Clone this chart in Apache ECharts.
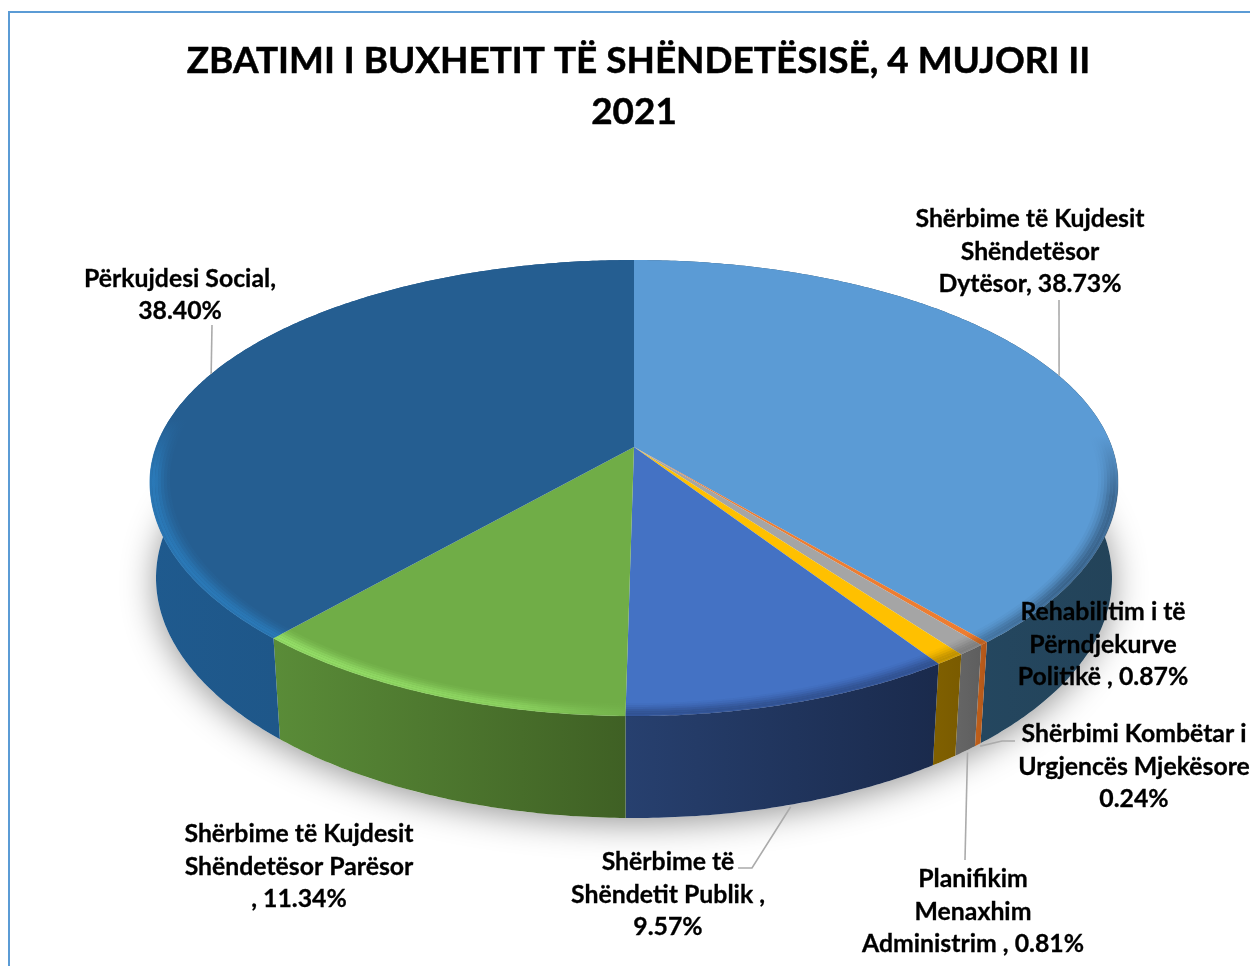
<!DOCTYPE html>
<html><head><meta charset="utf-8">
<style>html,body{margin:0;padding:0;background:#fff;overflow:hidden}#c{width:1250px;height:966px}</style>
<script src="https://cdn.jsdelivr.net/npm/echarts@6/dist/echarts.min.js"></script>
</head><body><div id="c"></div>
<script>
// ---- data ----
const titleText = ' ZBATIMI I BUXHETIT TË SHËNDETËSISË, 4 MUJORI II\n2021';
const categories = [
  'Shërbime të Kujdesit\nShëndetësor\nDytësor',
  'Shërbimi Kombëtar i\nUrgjencës Mjekësore',
  'Planifikim\nMenaxhim\nAdministrim',
  'Rehabilitim i të\nPërndjekurve\nPolitikë',
  'Shërbime të\nShëndetit Publik',
  'Shërbime të Kujdesit\nShëndetësor Parësor',
  'Përkujdesi Social'
];
const values = [38.73, 0.24, 0.81, 0.87, 9.57, 11.34, 38.40];
const separators = [', ', '\n', ' , ', ' , ', ' ,\n', '\n, ', ',\n'];
// ---- style / layout ----
const topColors  = ['#5B9BD5','#ED7D31','#A5A5A5','#FFC000','#4472C4','#70AD47','#255E91'];
const sideLeft   = ['#27506F','#C0601A','#666666','#806000','#27406F','#5A8C38','#1F5A8E'];
const sideRight  = ['#234359','#B0561A','#5E5E5E','#7A5B00','#1A2A4C','#3F6024','#1C4E7B'];
const labelPos   = [[1030,252],[1134,767],[973,912],[1103,645],[668,895],[299,867],[180,295]];
const leaderEnds = [[[1059,300]],[[1002,741],[1015,741]],[[965,860]],null,[[752,868],[738,868]],null,[[212,325]]];
const leaderOnBase = [false,true,true,false,true,false,false];
const topE  = {cx:634, cy:482, rx:484, ryUp:222, ryDown:234, p:0.158};
const baseE = {cx:634, cy:578, rx:478, ryUp:240, ryDown:240, p:0.15};
const FONT = 'Lato, Carlito, "Open Sans", sans-serif';

// ---- geometry from values ----
const total = values.reduce((a,b)=>a+b,0);
let run = 0;
const spans = values.map(v=>{const s=run/total*2*Math.PI; run+=v; return [s, run/total*2*Math.PI];});
function pt(t,R,E){
  const u=R*Math.sin(t), v=-R*Math.cos(t), d=1-E.p*v, y=(v-E.p)/d;
  return [E.cx+E.rx*u*Math.sqrt(1-E.p*E.p)/d, E.cy+(y<0?E.ryUp:E.ryDown)*y];
}
function arc(a,b,R,E){
  const n=Math.max(4,Math.ceil((b-a)/0.01)), out=[];
  for(let i=0;i<=n;i++) out.push(pt(a+(b-a)*i/n,R,E));
  return out;
}
const hgrad=(a,b)=>({type:'linear',x:0,y:0,x2:1,y2:0,colorStops:[{offset:0,color:a},{offset:1,color:b}]});
const vstops=(rgb,st)=>({type:'linear',x:0,y:0,x2:0,y2:1,colorStops:st.map(s=>({offset:s[0],color:'rgba('+rgb+','+s[1]+')'}))});
const bevelFill=[
 vstops('35,62,90',[[0,0],[0.46,0],[0.62,0.55],[0.85,0.6],[1,0.4]]),
 'rgba(140,70,20,0.5)','rgba(90,90,90,0.5)','rgba(130,100,0,0.5)',
 'rgba(30,50,95,0.5)',
 {type:'linear',x:0,y:0,x2:1,y2:0,colorStops:[{offset:0,color:'rgba(150,225,105,0.95)'},{offset:0.7,color:'rgba(150,225,105,0.7)'},{offset:1,color:'rgba(130,200,90,0.25)'}]},
 vstops('42,122,185',[[0,0],[0.42,0],[0.56,0.95],[1,0.95]])
];
// strips across the rim: [inner radius, outer radius, opacity]
const rimStrips=[[0.96,0.966,0.1],[0.966,0.972,0.25],[0.972,0.978,0.45],[0.978,0.984,0.7],[0.984,0.99,0.9],[0.99,0.996,1],[0.996,1.001,0.85]];
function poly(points,fill,extra){return {type:'polygon',shape:{points},style:Object.assign({fill},extra||{})};}
const idx=values.map((v,i)=>i);
const custom=(z,render)=>({type:'custom',coordinateSystem:'none',silent:true,z,data:idx,renderItem:render,animation:false,clip:false});

const series=[
  custom(1,(p)=>p.dataIndex!==0?null:poly(arc(0,2*Math.PI,1,baseE),'#fff',{shadowBlur:34,shadowColor:'rgba(0,0,0,0.42)',shadowOffsetY:5})),
  custom(2,(p,api)=>{const i=api.value(0),[a,b]=spans[i];
    const pts=arc(a,b,1,topE).concat(arc(a,b,1,baseE).reverse());
    return poly(pts,hgrad(sideLeft[i],sideRight[i]));}),
  custom(3,(p,api)=>{const i=api.value(0),[a,b]=spans[i];
    return poly([pt(0,0,topE)].concat(arc(a,b,1,topE)),topColors[i]);}),
  custom(4,(p,api)=>{const i=api.value(0),[a,b]=spans[i];
    return {type:'group',children:rimStrips.map(q=>poly(arc(a,b,q[1],topE).concat(arc(a,b,q[0],topE).reverse()),bevelFill[i],{opacity:q[2]}))};}),
  custom(5,(p,api)=>{const i=api.value(0);
    if(!leaderEnds[i]) return null;
    const mid=(spans[i][0]+spans[i][1])/2;
    const start=pt(mid,leaderOnBase[i]?1.006:1,leaderOnBase[i]?baseE:topE);
    return {type:'polyline',shape:{points:[start].concat(leaderEnds[i])},style:{fill:null,stroke:'#ABABAB',lineWidth:1.6}};}),
  custom(6,(p,api)=>{const i=api.value(0);
    return {type:'text',x:labelPos[i][0],y:labelPos[i][1],style:{
      text:categories[i]+separators[i]+values[i].toFixed(2)+'%',
      textAlign:'center',textVerticalAlign:'middle',fill:'#000',stroke:'#000',lineWidth:0.3,
      font:'700 24.8px '+FONT,lineHeight:32.5}};})
];

const chart=echarts.init(document.getElementById('c'),null,{renderer:'canvas'});
chart.setOption({
  backgroundColor:'#fff',
  animation:false,
  title:{text:titleText,left:629,top:31,textAlign:'center',
    textStyle:{fontFamily:FONT,fontWeight:700,fontSize:36.9,lineHeight:50.5,color:'#000',textBorderColor:'#000',textBorderWidth:0.5}},
  graphic:[
    {type:'line',silent:true,shape:{x1:9,y1:12,x2:9,y2:966},style:{stroke:'#5B9BD5',lineWidth:2}},
    {type:'line',silent:true,shape:{x1:8,y1:12,x2:1250,y2:12},style:{stroke:'#5B9BD5',lineWidth:2}}
  ],
  series
});
</script></body></html>
